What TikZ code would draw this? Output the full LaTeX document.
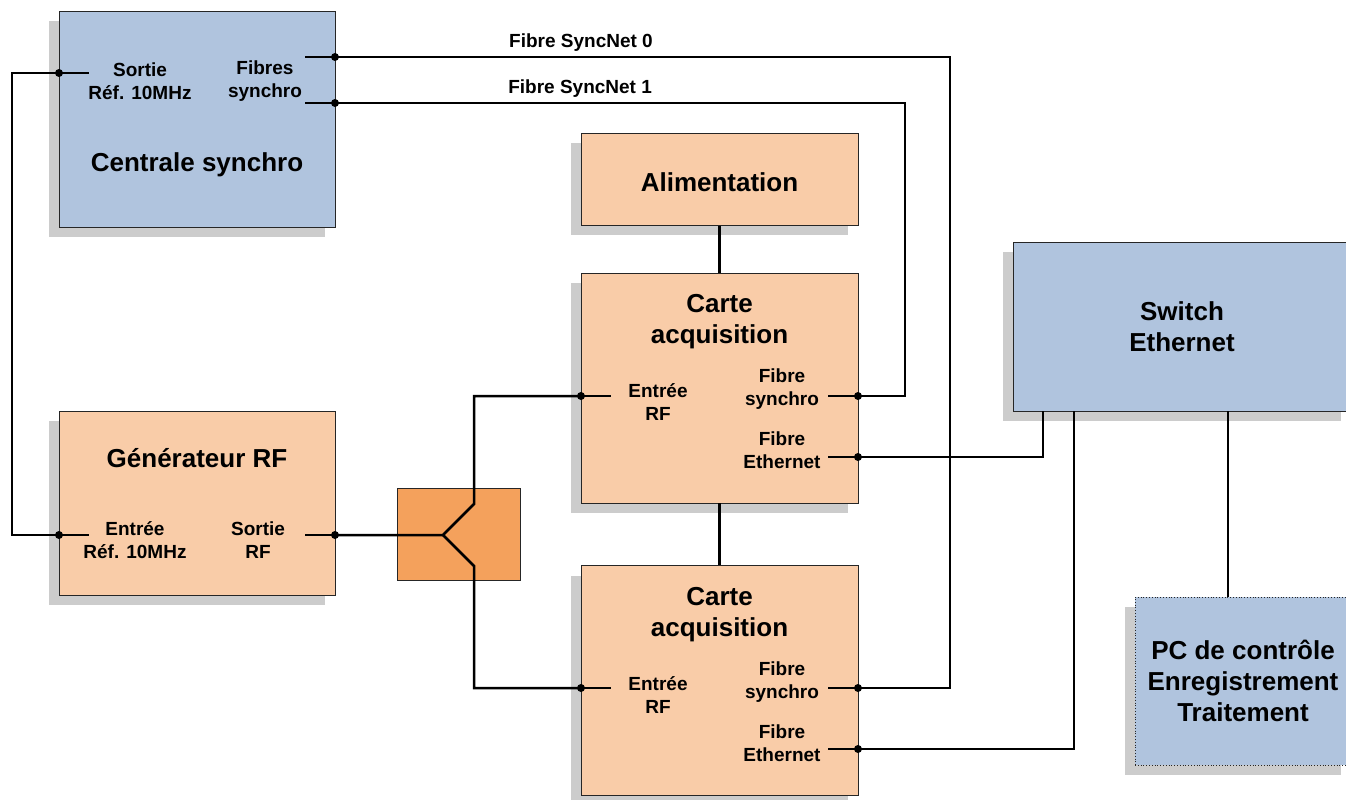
\documentclass[tikz,border=0pt]{standalone}
\usepackage{fontspec}
\setmainfont{Liberation Sans}
\usetikzlibrary{positioning,shadows,calc}
\definecolor{boxblue}{RGB}{176,196,222}
\definecolor{boxpeach}{RGB}{249,204,168}
\definecolor{splitorange}{RGB}{244,161,92}

\begin{document}
\begin{tikzpicture}[
    x=1pt, y=-1pt,
    blk/.style={draw=black!85, line width=0.8pt, inner sep=0pt, align=center,
        font=\bfseries\fontsize{26}{31}\selectfont,
        drop shadow={shadow xshift=-10pt, shadow yshift=-10pt, fill=gray!40, opacity=1}},
    sync/.style={blk, fill=boxblue},
    card/.style={blk, fill=boxpeach, minimum width=277pt},
    head/.style={align=center, inner sep=0pt, font=\bfseries\fontsize{26}{31}\selectfont},
    lbl/.style={align=center, inner sep=0pt, font=\bfseries\fontsize{19}{23}\selectfont},
    dot/.style={circle, fill=black, inner sep=0pt, minimum size=8pt},
    wire/.style={line width=2.5pt}
]
\useasboundingbox (0,0) rectangle (1346,800);

% boxes
\node[sync, minimum width=276pt, minimum height=216pt] (centrale) at (197,119) {};
\node[head] (centraleT) at (197,165) {Centrale synchro};
\node[lbl] (refout) at (140,81.5) {Sortie\\Réf. 10MHz};
\node[lbl] (syncout) at (265,81.5) {Fibres\\synchro};

\node[card, minimum width=276pt, minimum height=184pt] (gen) at (197,503) {};
\node[head] (genT) at (197,458) {Générateur RF};
\node[lbl] (refin) at (135,540.5) {Entrée\\Réf. 10MHz};
\node[lbl] (rfout) at (258,540.5) {Sortie\\RF};

\node[draw=black!85, line width=0.8pt, fill=splitorange, minimum width=123pt, minimum height=92pt] (split) at (458.5,534) {};

\node[card, minimum height=230pt] (carte1) at (719.5,388) {};
\node[card, minimum height=92pt, text height=25pt, above=47pt of carte1] (alim) {Alimentation};
\node[card, minimum height=230pt, below=62pt of carte1] (carte2) {};

\node[head] (carte1T) at ([yshift=-49pt]carte1.north) {Carte\\acquisition};
\node[lbl] (rfin1) at ([xshift=-61.5pt, yshift=-14.5pt]carte1.center) {Entrée\\RF};
\node[lbl] (syn1) at ([xshift=62.5pt, yshift=-1.5pt]carte1.center) {Fibre\\synchro};
\node[lbl] (eth1) at ([xshift=62.5pt, yshift=-62pt]carte1.center) {Fibre\\Ethernet};

\node[head] (carte2T) at ([yshift=-49pt]carte2.north) {Carte\\acquisition};
\node[lbl] (rfin2) at ([xshift=-61.5pt, yshift=-14.5pt]carte2.center) {Entrée\\RF};
\node[lbl] (syn2) at ([xshift=62.5pt, yshift=-1.5pt]carte2.center) {Fibre\\synchro};
\node[lbl] (eth2) at ([xshift=62.5pt, yshift=-62pt]carte2.center) {Fibre\\Ethernet};

\node[sync, minimum width=338pt, minimum height=169pt] (switch) at (1182,326.5) {Switch\\Ethernet};
\node[sync, dotted, minimum width=216pt, minimum height=168pt] (pc) at (1243,681) {PC de contrôle\\Enregistrement\\Traitement};

% ports
\node[dot] (pRefOut) at (59,73) {};
\node[dot] (pSync0) at (335,57) {};
\node[dot] (pSync1) at (335,103) {};
\node[dot] (pRefIn) at (59,535) {};
\node[dot] (pRfOut) at (335,535) {};
\node[dot] (pRfIn1) at (581,396) {};
\node[dot] (pSyn1) at (858,396) {};
\node[dot] (pEth1) at (858,457) {};
\node[dot] (pRfIn2) at (581,688) {};
\node[dot] (pSyn2) at (858,688) {};
\node[dot] (pEth2) at (858,749) {};

\coordinate (hub) at (443,535);
\coordinate (brUp) at (474,504);
\coordinate (brDown) at (474,566);

\draw[wire] (pRefOut.center) -- ++(30,0);
\draw[wire] (pSync0.center) -- ++(-30,0);
\draw[wire] (pSync1.center) -- ++(-30,0);
\draw[wire] (pRefIn.center) -- ++(30,0);
\draw[wire] (pRfOut.center) -- ++(-30,0);
\draw[wire] (pRfIn1.center) -- ++(30,0);
\draw[wire] (pSyn1.center) -- ++(-30,0);
\draw[wire] (pEth1.center) -- ++(-30,0);
\draw[wire] (pRfIn2.center) -- ++(30,0);
\draw[wire] (pSyn2.center) -- ++(-30,0);
\draw[wire] (pEth2.center) -- ++(-30,0);

% links
\draw[wire] (pRefOut.center) -- ++(-47,0) |- (pRefIn.center);
\draw[wire] (pSync0.center) -- node[lbl, above=4pt, pos=0.4] (fsn0) {Fibre SyncNet 0} ++(615,0) |- (pSyn2.center);
\draw[wire] (pSync1.center) -- node[lbl, above=4pt, pos=0.43] (fsn1) {Fibre SyncNet 1} ++(570,0) |- (pSyn1.center);

\draw[wire] (pRfOut.center) -- (hub) -- (brUp) |- (pRfIn1.center);
\draw[wire] (hub) -- (brDown) |- (pRfIn2.center);

\draw[wire] (alim) -- (carte1);
\draw[wire] (carte1) -- (carte2);

\draw[wire] (pEth1.center) -| ([xshift=-139pt]switch.south);
\draw[wire] (pEth2.center) -| ([xshift=-108pt]switch.south);
\draw[wire] ([xshift=46pt]switch.south) -- ([xshift=-15pt]pc.north);
\end{tikzpicture}
\end{document}
